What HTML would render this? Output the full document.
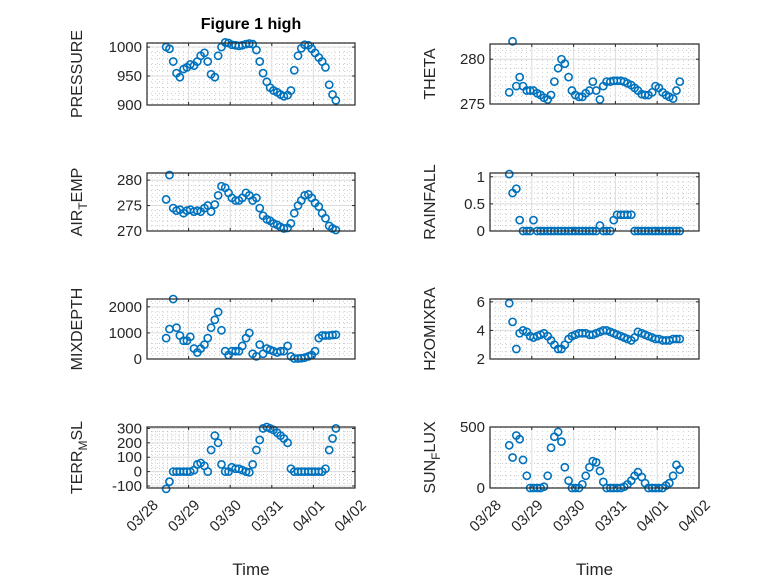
<!DOCTYPE html>
<html><head><meta charset="utf-8">
<style>
html,body{margin:0;padding:0;background:#fff;}
svg{display:block;font-family:"Liberation Sans","DejaVu Sans",sans-serif;}
</style></head>
<body>
<svg id="fig" width="778" height="583" viewBox="0 0 778 583" xmlns="http://www.w3.org/2000/svg">
<rect width="778" height="583" fill="#fff"/>
<text x="251" y="29" text-anchor="middle" font-size="16" font-weight="bold" fill="#000">Figure 1 high</text>
</svg>
<script>
const times=[0.46,0.54,0.63,0.71,0.79,0.88,0.96,1.04,1.13,1.21,1.29,1.38,1.46,1.54,1.63,1.71,1.79,1.88,1.96,2.04,2.13,2.21,2.29,2.38,2.46,2.54,2.63,2.71,2.79,2.88,2.96,3.04,3.13,3.21,3.29,3.38,3.46,3.54,3.63,3.71,3.79,3.88,3.96,4.04,4.13,4.21,4.29,4.38,4.46,4.54];
const xTickLabels=["03/28","03/29","03/30","03/31","04/01","04/02"];
const pressure=[1000,997,975,955,948,962,965,970,968,975,985,990,975,953,948,985,1000,1008,1007,1004,1003,1002,1003,1005,1006,1005,995,975,955,940,930,925,922,918,915,917,925,960,985,998,1004,1003,997,990,982,975,965,935,918,908];
const theta=[276.3,282,277,278,277,276.5,276.5,276.5,276.2,276,275.7,275.5,276,277.5,279,280,279.5,278,276.5,276,275.8,275.8,276.2,276.5,277.5,276.5,275.5,277,277.5,277.5,277.6,277.6,277.6,277.5,277.3,277.1,276.8,276.5,276.1,276,276,276.3,277,276.8,276.3,276,275.8,275.6,276.5,277.5];
const airTemp=[276.2,281,274.5,274,274.2,273.5,274,274.2,273.8,274,273.8,274.5,275,273.8,275.2,277,278.8,278.5,277.5,276.5,276,276,276.5,277.5,277,276,276.5,274.5,273,272.3,272,271.5,271.2,270.8,270.5,270.6,271.5,273.5,275,276,277,277.2,276.5,275.5,274.8,273.5,272.5,271,270.5,270.2];
const rainfall=[1.05,0.7,0.78,0.2,0,0,0,0.2,0,0,0,0,0,0,0,0,0,0,0,0,0,0,0,0,0,0,0.1,0,0,0,0.2,0.3,0.3,0.3,0.3,0.3,0,0,0,0,0,0,0,0,0,0,0,0,0,0];
const mixDepth=[800,1150,2300,1200,900,700,700,850,400,250,400,550,800,1200,1500,1800,1100,300,150,300,300,300,500,800,1000,200,100,550,200,400,350,300,250,300,300,500,100,20,20,30,50,100,150,300,800,900,900,900,920,930];
const h2oMix=[5.9,4.6,2.7,3.8,4.0,3.9,3.6,3.5,3.6,3.7,3.8,3.6,3.3,3.0,2.7,2.7,3.0,3.4,3.6,3.7,3.8,3.8,3.8,3.7,3.7,3.8,3.9,4.0,4.0,3.9,3.8,3.7,3.6,3.5,3.4,3.3,3.5,3.9,3.8,3.7,3.6,3.5,3.4,3.4,3.3,3.3,3.3,3.4,3.4,3.4];
const terrMsl=[-120,-70,0,0,0,0,0,0,10,50,60,40,0,150,250,200,50,0,0,30,20,20,10,0,-5,50,150,220,300,310,300,290,270,250,230,200,20,0,0,0,0,0,0,0,0,0,20,150,230,300];
const sunFlux=[350,250,430,400,230,100,0,0,0,0,10,100,330,420,460,380,170,60,0,0,0,30,100,170,220,210,140,50,0,0,0,0,0,10,30,60,100,130,90,40,0,0,0,0,0,20,40,100,190,150];
const pressureTicks=[900,950,1000];
const thetaTicks=[275,280];
const airTempTicks=[270,275,280];
const rainTicks=[0,0.5,1];
const mixTicks=[0,1000,2000];
const h2oTicks=[2,4,6];
const terrTicks=[-100,0,100,200,300];
const sunTicks=[0,500];

const NS="http://www.w3.org/2000/svg";
const svg=document.getElementById('fig');
function mk(tag,attrs,parent){const e=document.createElementNS(NS,tag);for(const k in attrs)e.setAttribute(k,attrs[k]);(parent||svg).appendChild(e);return e;}

const panels=[
 {name:'pressure',x0:147,x1:355,y0:43,y1:105,ymin:900,ymax:1007,ticks:pressureTicks,data:pressure,label:['PRESSURE'],lx:82,minor:5,bottom:false},
 {name:'theta',x0:490,x1:699,y0:44,y1:104,ymin:275,ymax:281.7,ticks:thetaTicks,data:theta,label:['THETA'],lx:435,minor:5,bottom:false},
 {name:'air-temp',x0:147,x1:355,y0:173,y1:231,ymin:270,ymax:281.4,ticks:airTempTicks,data:airTemp,label:['AIR','T','EMP'],lx:82,minor:5,bottom:false},
 {name:'rainfall',x0:490,x1:699,y0:173,y1:231,ymin:0,ymax:1.07,ticks:rainTicks,data:rainfall,label:['RAINFALL'],lx:435,minor:5,bottom:false},
 {name:'mix-depth',x0:147,x1:355,y0:299,y1:359,ymin:0,ymax:2300,ticks:mixTicks,data:mixDepth,label:['MIXDEPTH'],lx:82,minor:5,bottom:false},
 {name:'h2o-mixra',x0:490,x1:699,y0:299,y1:359,ymin:2,ymax:6.2,ticks:h2oTicks,data:h2oMix,label:['H2OMIXRA'],lx:435,minor:4,bottom:false},
 {name:'terr-msl',x0:147,x1:355,y0:427,y1:488,ymin:-114,ymax:310,ticks:terrTicks,data:terrMsl,label:['TERR','M','SL'],lx:82,minor:5,bottom:true},
 {name:'sun-flux',x0:490,x1:699,y0:427,y1:488,ymin:0,ymax:500,ticks:sunTicks,data:sunFlux,label:['SUN','F','LUX'],lx:435,minor:5,bottom:true}
];

panels.forEach(p=>{
 const g=mk('g',{});
 
 
 const X=d=>p.x0+(p.x1-p.x0)*d/5;
 const Y=v=>p.y1-(p.y1-p.y0)*(v-p.ymin)/(p.ymax-p.ymin);
 mk('rect',{x:p.x0,y:p.y0,width:p.x1-p.x0,height:p.y1-p.y0,fill:'#fff'},g);
 for(let i=0;i<=40;i++){const xv=X(i/8);if(i%8)mk('line',{x1:xv,x2:xv,y1:p.y0,y2:p.y1,stroke:'#b0b0b0','stroke-width':0.6,'stroke-dasharray':'1,3'},g);}
 const step=(p.ticks[1]-p.ticks[0])/p.minor;
 for(let v=p.ticks[0]-p.minor*step;v<=p.ymax;v+=step){if(v<p.ymin)continue;const yv=Y(v);mk('line',{x1:p.x0,x2:p.x1,y1:yv,y2:yv,stroke:'#b0b0b0','stroke-width':0.6,'stroke-dasharray':'1,3'},g);}
 for(let i=1;i<5;i++){const xv=X(i);mk('line',{x1:xv,x2:xv,y1:p.y0,y2:p.y1,stroke:'#dcdcdc','stroke-width':1},g);}
 p.ticks.forEach(v=>{const yv=Y(v);mk('line',{x1:p.x0,x2:p.x1,y1:yv,y2:yv,stroke:'#dcdcdc','stroke-width':1},g);});
 for(let i=0;i<=5;i++){const xv=X(i);mk('line',{x1:xv,x2:xv,y1:p.y1,y2:p.y1-3,stroke:'#262626'},g);mk('line',{x1:xv,x2:xv,y1:p.y0,y2:p.y0+3,stroke:'#262626'},g);}
 p.ticks.forEach(v=>{const yv=Y(v);mk('line',{x1:p.x0,x2:p.x0+3,y1:yv,y2:yv,stroke:'#262626'},g);mk('line',{x1:p.x1,x2:p.x1-3,y1:yv,y2:yv,stroke:'#262626'},g);
  const t=mk('text',{x:p.x0-5,y:yv+5,'text-anchor':'end','font-size':15,fill:'#262626'},g);t.textContent=v;
  
  
 });
 const dg=mk('g',{},g);
 
 
 p.data.forEach((v,i)=>{const c=mk('circle',{cx:X(times[i]),cy:Y(v),r:3.6,fill:'none',stroke:'#0072BD','stroke-width':1.6},dg);
  
  
 });
 mk('rect',{x:p.x0,y:p.y0,width:p.x1-p.x0,height:p.y1-p.y0,fill:'none',stroke:'#262626','stroke-width':1.2},g);
 const cy=(p.y0+p.y1)/2;
 const lt=mk('text',{x:0,y:0,'text-anchor':'middle','font-size':16,fill:'#262626',transform:`translate(${p.lx},${cy}) rotate(-90)`},g);
 
 
 if(p.label.length===1){lt.textContent=p.label[0];}
 else{const a=mk('tspan',{},lt);a.textContent=p.label[0];const b=mk('tspan',{dy:5,'font-size':12},lt);b.textContent=p.label[1];const c=mk('tspan',{dy:-5},lt);c.textContent=p.label[2];}
 if(p.bottom){
  xTickLabels.forEach((s,i)=>{const xv=X(i);const t=mk('text',{x:0,y:0,'text-anchor':'end','font-size':15,fill:'#262626',transform:`translate(${xv+12},${p.y1+18}) rotate(-45)`},g);t.textContent=s;
   
   
  });
  const tt=mk('text',{x:(p.x0+p.x1)/2,y:575,'text-anchor':'middle','font-size':17,fill:'#262626'},g);tt.textContent='Time';
  
  
 }
});
</script>
</body></html>
